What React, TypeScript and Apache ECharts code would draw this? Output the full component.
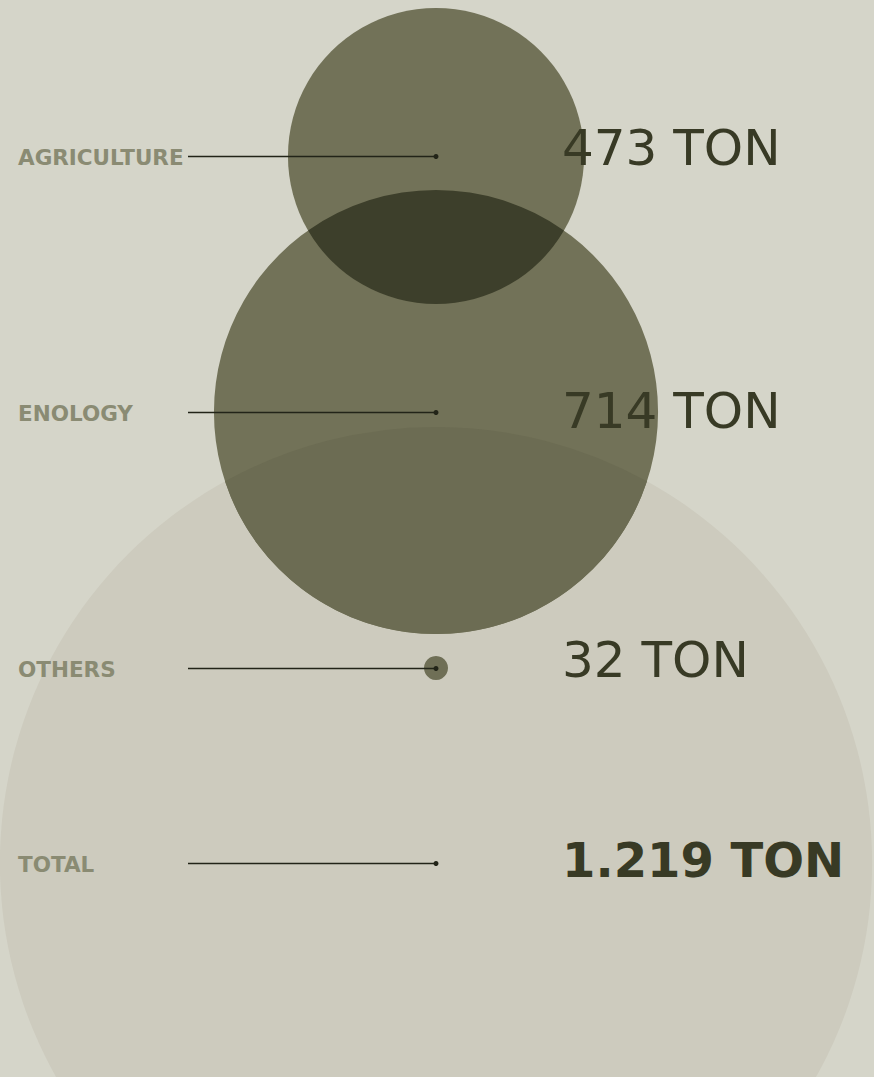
import React, { useEffect, useRef } from "react";
import * as echarts from "echarts";

// ---- data ----
const categories = ["AGRICULTURE", "ENOLOGY", "OTHERS", "TOTAL"];
const tons = [473, 714, 32, 1219];
const valueLabels = ["473 TON", "714 TON", "32 TON", "1.219 TON"];

// ---- layout / style ----
const W = 874;
const H = 1077;
const CX = 436;
const rowY = [156, 412, 668, 863];
const sizeScale = [0.626, 0.622, 0.75, 0.7155]; // px of diameter per ton
const drawOrder = [3, 1, 0, 2];
const lensPairs = [
  [0, 1, "#3d3f2b"],
  [1, 3, "#6c6c53"],
];
const BG = "#d5d5c9";
const CIRCLE = "#727258";
const TOTAL_FILL = "#cdcbbe";
const OTHERS_FILL = "#6f6f56";
const LABEL = "#8a8b73";
const VALUE = "#383a25";
const LINE = "#222418";
const LINE_START_X = 188;
const LABEL_X = 18;
const VALUE_X = 562;
const valueYOffset = [-8, -1, -8, -3];

const radius = (i: number) => (tons[i] * sizeScale[i]) / 2;

export default function App() {
  const ref = useRef<HTMLDivElement>(null);
  useEffect(() => {
    document.body.style.margin = "0";
    const chart = echarts.init(ref.current!, undefined, { renderer: "svg" });
    const option: any = {
      animation: false,
      backgroundColor: BG,
      grid: { left: 0, right: 0, top: 0, bottom: 0 },
      xAxis: { type: "value", min: 0, max: W, show: false },
      yAxis: { type: "value", min: 0, max: H, inverse: true, show: false },
      series: [
        {
          type: "scatter",
          z: 1,
          clip: false,
          silent: true,
          symbol: "circle",
          data: drawOrder.map((i) => ({
            name: categories[i],
            value: [CX, rowY[i]],
            symbolSize: tons[i] * sizeScale[i],
            itemStyle: {
              color: i === 3 ? TOTAL_FILL : i === 2 ? OTHERS_FILL : CIRCLE,
              opacity: 1,
            },
          })),
        },
        {
          type: "custom",
          z: 5,
          silent: true,
          clip: false,
          data: lensPairs.map((p) => [p[0], p[1]]),
          renderItem: (params: any, api: any) => {
            const pair = lensPairs[params.dataIndex];
            const i = pair[0] as number;
            const j = pair[1] as number;
            const c1 = api.coord([CX, rowY[i]]);
            const c2 = api.coord([CX, rowY[j]]);
            const r1 = radius(i);
            const r2 = radius(j);
            const d = c2[1] - c1[1];
            const a = (d * d + r1 * r1 - r2 * r2) / (2 * d);
            const h = Math.sqrt(Math.max(0, r1 * r1 - a * a));
            const yi = c1[1] + a;
            const xl = c1[0] - h;
            const xr = c1[0] + h;
            const large1 = a < 0 ? 1 : 0;
            const large2 = d - a < 0 ? 1 : 0;
            const pathData =
              `M ${xl} ${yi} A ${r1} ${r1} 0 ${large1} 0 ${xr} ${yi} ` +
              `A ${r2} ${r2} 0 ${large2} 0 ${xl} ${yi} Z`;
            return {
              type: "path",
              shape: { pathData },
              style: { fill: pair[2] as string },
            };
          },
        },
        {
          type: "custom",
          z: 10,
          silent: true,
          clip: false,
          data: categories.map((_, i) => [i]),
          renderItem: (params: any, api: any) => {
            const i = params.dataIndex;
            const start = api.coord([LINE_START_X, rowY[i]]);
            const end = api.coord([CX, rowY[i]]);
            const lab = api.coord([LABEL_X, rowY[i] + 1]);
            const val = api.coord([VALUE_X, rowY[i] + valueYOffset[i]]);
            const isTotal = i === 3;
            return {
              type: "group",
              children: [
                {
                  type: "line",
                  shape: { x1: start[0], y1: start[1] + 0.5, x2: end[0], y2: end[1] + 0.5 },
                  style: { stroke: LINE, lineWidth: 1.5 },
                },
                {
                  type: "circle",
                  shape: { cx: end[0], cy: end[1] + 0.5, r: 2.5 },
                  style: { fill: LINE },
                },
                {
                  type: "text",
                  x: lab[0],
                  y: lab[1],
                  style: {
                    text: categories[i],
                    fill: LABEL,
                    fontFamily: "DejaVu Sans",
                    fontWeight: "bold",
                    fontSize: 21.5,
                    align: "left",
                    verticalAlign: "middle",
                  },
                },
                {
                  type: "text",
                  x: val[0],
                  y: val[1],
                  style: {
                    text: valueLabels[i],
                    fill: VALUE,
                    fontFamily: "DejaVu Sans",
                    fontWeight: isTotal ? "bold" : "normal",
                    fontSize: isTotal ? 48 : 50,
                    align: "left",
                    verticalAlign: "middle",
                  },
                },
              ],
            };
          },
        },
      ],
    };
    chart.setOption(option);
    return () => chart.dispose();
  }, []);
  return (
    <div
      ref={ref}
      style={{ position: "absolute", left: 0, top: 0, width: W, height: H }}
    />
  );
}
